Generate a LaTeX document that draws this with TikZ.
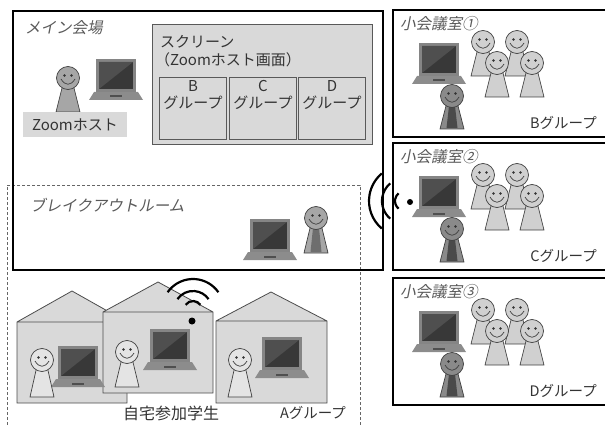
\documentclass[tikz,border=0pt]{standalone}
\usepackage{fontspec}
\setmainfont{Noto Sans CJK JP}
\newfontfamily\slantjp[FakeSlant=0.2]{Noto Sans CJK JP}
\usetikzlibrary{positioning}

\definecolor{textcol}{HTML}{333333}
\definecolor{labelcol}{HTML}{595959}
\definecolor{panelfill}{HTML}{D9D9D9}
\definecolor{paneledge}{HTML}{595959}
\definecolor{lapframe}{HTML}{858585}
\definecolor{lapscreen}{HTML}{383838}
\definecolor{lapglare}{HTML}{4F4F4F}
\definecolor{lapbase}{HTML}{8C8C8C}
\definecolor{lightfig}{HTML}{D0D0D0}
\definecolor{hostfig}{HTML}{A6A6A6}
\definecolor{darkfig}{HTML}{8A8A8A}
\definecolor{tiefill}{HTML}{4A4A4A}
\definecolor{homefig}{HTML}{E4E4E4}

\tikzset{
  figline/.style={draw=black!75, line width=0.7pt},
  roomline/.style={draw=black, line width=2pt},
  dashbox/.style={draw=black!60, line width=0.8pt, dash pattern=on 3pt off 2pt},
  wave/.style={draw=black, line width=2.2pt},
  house/.style={draw=black!70, fill=panelfill, line width=0.8pt},
  panel/.style={draw=paneledge, fill=panelfill, line width=0.8pt},
  roomlabel/.style={anchor=west, inner sep=0pt, text=labelcol, font=\fontsize{15.5pt}{18pt}\slantjp},
  plain/.style={inner sep=0pt, text=textcol},
  grouptext/.style={inner sep=0pt, text=textcol, font=\fontsize{14.5pt}{17pt}\selectfont},
  pics/laptop/.style={code={
    \fill[lapframe] (-20,-41) rectangle (20,-8);
    \fill[lapscreen] (-17,-38) rectangle (17,-11);
    \fill[lapglare] (-17,-38) -- (17,-38) -- (-17,-11) -- cycle;
    \fill[lapbase] (-22,-8) -- (22,-8) -- (27,0) -- (-27,0) -- cycle;
    \fill[lapglare] (-6,-4.5) rectangle (6,-2.5);
  }},
  pics/person/.style n args={3}{code={
    \draw[figline, fill=#1] (-5,6) -- (5,6) -- (12,#2) -- (-12,#2) -- cycle;
    \fill[fill=#3] (-3,10) -- (3,10) -- (5.5,#2-1) -- (-5.5,#2-1) -- cycle;
    \draw[figline, fill=#1] (0,0) circle (11.5);
    \fill[black!80] (-3.5,-2.5) circle (1.3) (3.5,-2.5) circle (1.3);
    \draw[figline] (-7,1) .. controls (-3,8) and (3,8) .. (7,1);
  }},
}

\begin{document}
\begin{tikzpicture}[x=1pt, y=-1pt, font=\fontsize{15pt}{17pt}\selectfont]
\useasboundingbox (0,0) rectangle (605,425);

% breakout area (dashed) and main hall
\draw[dashbox] (360,430) -- (360,185) -- (7,185) -- (7,430);
\draw[roomline] (13,11) rectangle (383,270);
\node[roomlabel] (hallLabel) at (25,28) {メイン会場};
\node[roomlabel] (breakLabel) at (30,205) {ブレイクアウトルーム};

% host
\pic at (116,100) {laptop};
\pic at (68,78) {person={hostfig}{34}{none}};
\node[plain, fill=panelfill, minimum width=104pt, minimum height=25pt] (hostName) at (75,124.5) {Zoomホスト};

% shared screen
\draw[panel] (152,24) rectangle (372,144);
\node[plain, anchor=west] (screenTitle) at (160,42) {スクリーン};
\node[plain, anchor=west] (screenSub) at (155,60) {（Zoomホスト画面）};
\foreach \g/\cx in {B/193,C/263,D/332}{
  \node[panel, minimum width=67pt, minimum height=62pt, inner sep=0pt] (scr\g) at (\cx,108) {};
  \node[plain, align=center, below=4pt of scr\g.north] (scr\g text) {\g\\グループ};
}

% breakout pair
\pic at (270,260) {laptop};
\pic at (316,218) {person={hostfig}{35}{tiefill!80}};

% small meeting rooms
\foreach \ry/\rnum/\grp in {10/①/B,143/②/C,278/③/D}{
  \draw[roomline] (607,\ry) -- (393,\ry) -- (393,\ry+127) -- (607,\ry+127);
  \node[roomlabel] (roomLabel\grp) at (400,\ry+14) {小会議室\rnum};
  \pic at (483,\ry+32) {person={lightfig}{34}{none}};
  \pic at (517,\ry+32) {person={lightfig}{34}{none}};
  \pic at (497,\ry+53) {person={lightfig}{34}{none}};
  \pic at (532,\ry+53) {person={lightfig}{34}{none}};
  \pic at (439,\ry+74) {laptop};
  \pic at (452,\ry+86) {person={darkfig}{33}{tiefill}};
  \node[grouptext, anchor=east] (group\grp) at (597,\ry+113) {\grp グループ};
}

% signal from room 2
\foreach \r in {10,23,36}
  \draw[wave] (405,201) ++(130:\r) arc[start angle=130, end angle=230, radius=\r];
\fill (410,202) circle (3);

% homes
\draw[house] (17,403) -- (17,322) -- (72,291) -- (127,322) -- (127,403) -- cycle (17,322) -- (127,322);
\draw[house] (216,403) -- (216,321) -- (271,292) -- (327,321) -- (327,403) -- cycle (216,321) -- (327,321);
\draw[house] (103,393) -- (103,312) -- (158,282) -- (213,312) -- (213,393) -- cycle (103,312) -- (213,312);
\foreach \r in {9,19,31}
  \draw[wave] (193,310) ++(-145:\r) arc[start angle=-145, end angle=-35, radius=\r];
\fill (192,321) circle (3.5);

\pic at (78,387) {laptop};
\pic at (42,360) {person={homefig}{37}{none}};
\pic at (170,370) {laptop};
\pic at (127,352) {person={homefig}{35}{none}};
\pic at (282,378) {laptop};
\pic at (240,360) {person={homefig}{37}{none}};

\node[plain, font=\fontsize{16pt}{18pt}\selectfont] (homeText) at (171,413) {自宅参加学生};
\node[grouptext] (groupA) at (313,413) {Aグループ};
\end{tikzpicture}
\end{document}
